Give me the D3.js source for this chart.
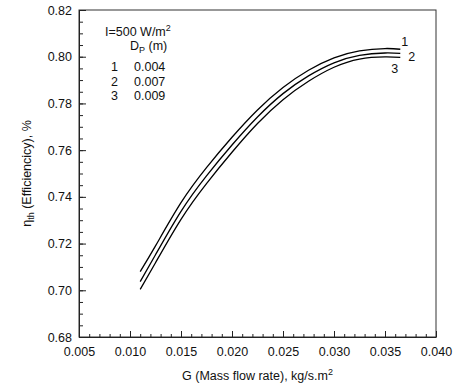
<!DOCTYPE html>
<style>
  body { margin: 0; background: #fff; }
  svg { font-family: Arial, "Liberation Sans", sans-serif; }
  .frame { fill: none; stroke: #333; stroke-width: 1; }
  .axis path { stroke: #222; }
  .axis line { stroke: #222; }
  .axis text { font-size: 12.5px; fill: #111; font-family: Arial, "Liberation Sans", sans-serif; }
  .curve { fill: none; stroke: #000; stroke-width: 1.3; }
  .lbl { font-size: 12.5px; fill: #111; }
</style>
<body>
</body>
<script src="https://cdn.jsdelivr.net/npm/d3@7/dist/d3.min.js"></script>
<script>
  const G = [0.011, 0.0125, 0.015, 0.0175, 0.020, 0.0225, 0.025, 0.0275, 0.030, 0.0325, 0.035, 0.0365];
  const eta1 = [0.708, 0.7190, 0.7375, 0.7525, 0.7655, 0.7772, 0.7868, 0.7942, 0.7995, 0.8025, 0.8035, 0.8032];
  const eta2 = [0.7037, 0.7152, 0.7338, 0.7490, 0.7622, 0.7742, 0.7842, 0.7918, 0.7974, 0.8006, 0.8016, 0.8014];
  const eta3 = [0.7004, 0.7118, 0.7304, 0.7457, 0.7591, 0.7714, 0.7816, 0.7895, 0.7955, 0.7990, 0.7999, 0.7997];
  const series = [
    {id: '1', values: eta1},
    {id: '2', values: eta2},
    {id: '3', values: eta3},
  ];
  const legendRows = [['1', '0.004'], ['2', '0.007'], ['3', '0.009']];
  const xTicks = [0.005, 0.010, 0.015, 0.020, 0.025, 0.030, 0.035, 0.040];
  const yTicks = [0.68, 0.70, 0.72, 0.74, 0.76, 0.78, 0.80, 0.82];

  const w = 460, h = 391;
  const l = 79, r = 436, t = 10, b = 337;

  const svg = d3.select('body').append('svg')
    .attr('width', w)
    .attr('height', h);

  const x = d3.scaleLinear().domain([0.005, 0.040]).range([l, r]);
  const y = d3.scaleLinear().domain([0.68, 0.82]).range([b, t]);

  // frame
  svg.append('rect').attr('class', 'frame')
    .attr('x', l).attr('y', t).attr('width', r - l).attr('height', b - t);

  // minor ticks
  const xMinor = d3.range(0.005, 0.0401, 0.001);
  const yMinor = d3.range(0.68, 0.8201, 0.005);
  svg.append('g').attr('class', 'axis')
    .attr('transform', `translate(0, ${b})`)
    .call(d3.axisBottom(x).tickValues(xMinor).tickSize(-3).tickFormat(''))
    .call(g => g.select('.domain').remove());
  svg.append('g').attr('class', 'axis')
    .attr('transform', `translate(${l}, 0)`)
    .call(d3.axisLeft(y).tickValues(yMinor).tickSize(-4).tickFormat(''))
    .call(g => g.select('.domain').remove());

  // bottom axis
  svg.append('g').attr('class', 'axis')
    .attr('transform', `translate(0, ${b})`)
    .call(d3.axisBottom(x).tickValues(xTicks).tickSize(-6).tickPadding(10)
            .tickFormat(d3.format('.3f')).tickSizeOuter(0));

  // left axis
  svg.append('g').attr('class', 'axis')
    .attr('transform', `translate(${l}, 0)`)
    .call(d3.axisLeft(y).tickValues(yTicks).tickSize(-7).tickPadding(7)
            .tickFormat(d3.format('.2f')).tickSizeOuter(0));

  // curves
  const line = d3.line()
    .x((d, i) => x(G[i]))
    .y(d => y(d))
    .curve(d3.curveNatural);

  svg.append('g').selectAll('path')
    .data(series)
    .join('path')
    .attr('class', 'curve')
    .attr('d', d => line(d.values));

  // curve labels
  const lastG = G[G.length - 1];
  const curveLbl = [
    {id: '1', dx: 1, dy: -3},
    {id: '2', dx: 8, dy: 8},
    {id: '3', dx: -9, dy: 16},
  ];
  svg.append('g').selectAll('text')
    .data(curveLbl)
    .join('text')
    .attr('class', 'lbl')
    .attr('x', d => x(lastG) + d.dx)
    .attr('y', (d, i) => y(series[i].values[series[i].values.length - 1]) + d.dy)
    .text(d => d.id);

  // legend
  const lg = svg.append('g');
  const t1 = lg.append('text').attr('class', 'lbl').attr('x', 105).attr('y', 36);
  t1.append('tspan').text('I=500 W/m');
  t1.append('tspan').attr('dy', -5).style('font-size', '9px').text('2');
  const t2 = lg.append('text').attr('class', 'lbl').attr('x', 130).attr('y', 50);
  t2.append('tspan').text('D');
  t2.append('tspan').attr('dy', 3).style('font-size', '9px').text('P');
  t2.append('tspan').attr('dy', -3).text(' (m)');
  lg.selectAll('.row')
    .data(legendRows)
    .join('g')
    .attr('class', 'row')
    .each(function(d, i) {
      const g = d3.select(this);
      g.append('text').attr('class', 'lbl').attr('x', 111).attr('y', 71 + i * 14.5).text(d[0]);
      g.append('text').attr('class', 'lbl').attr('x', 134).attr('y', 71 + i * 14.5).text(d[1]);
    });

  // axis titles
  const xt = svg.append('text').attr('class', 'lbl')
    .attr('x', (l + r) / 2).attr('y', 380).attr('text-anchor', 'middle');
  xt.append('tspan').text('G (Mass flow rate), kg/s.m');
  xt.append('tspan').attr('dy', -5).style('font-size', '9px').text('2');

  const yt = svg.append('text').attr('class', 'lbl')
    .attr('transform', `translate(31, ${(t + b) / 2}) rotate(-90)`)
    .attr('text-anchor', 'middle');
  yt.append('tspan').text('η');
  yt.append('tspan').attr('dy', 3).style('font-size', '9px').text('th');
  yt.append('tspan').attr('dy', -3).text(' (Efficiencicy), %');
</script>
